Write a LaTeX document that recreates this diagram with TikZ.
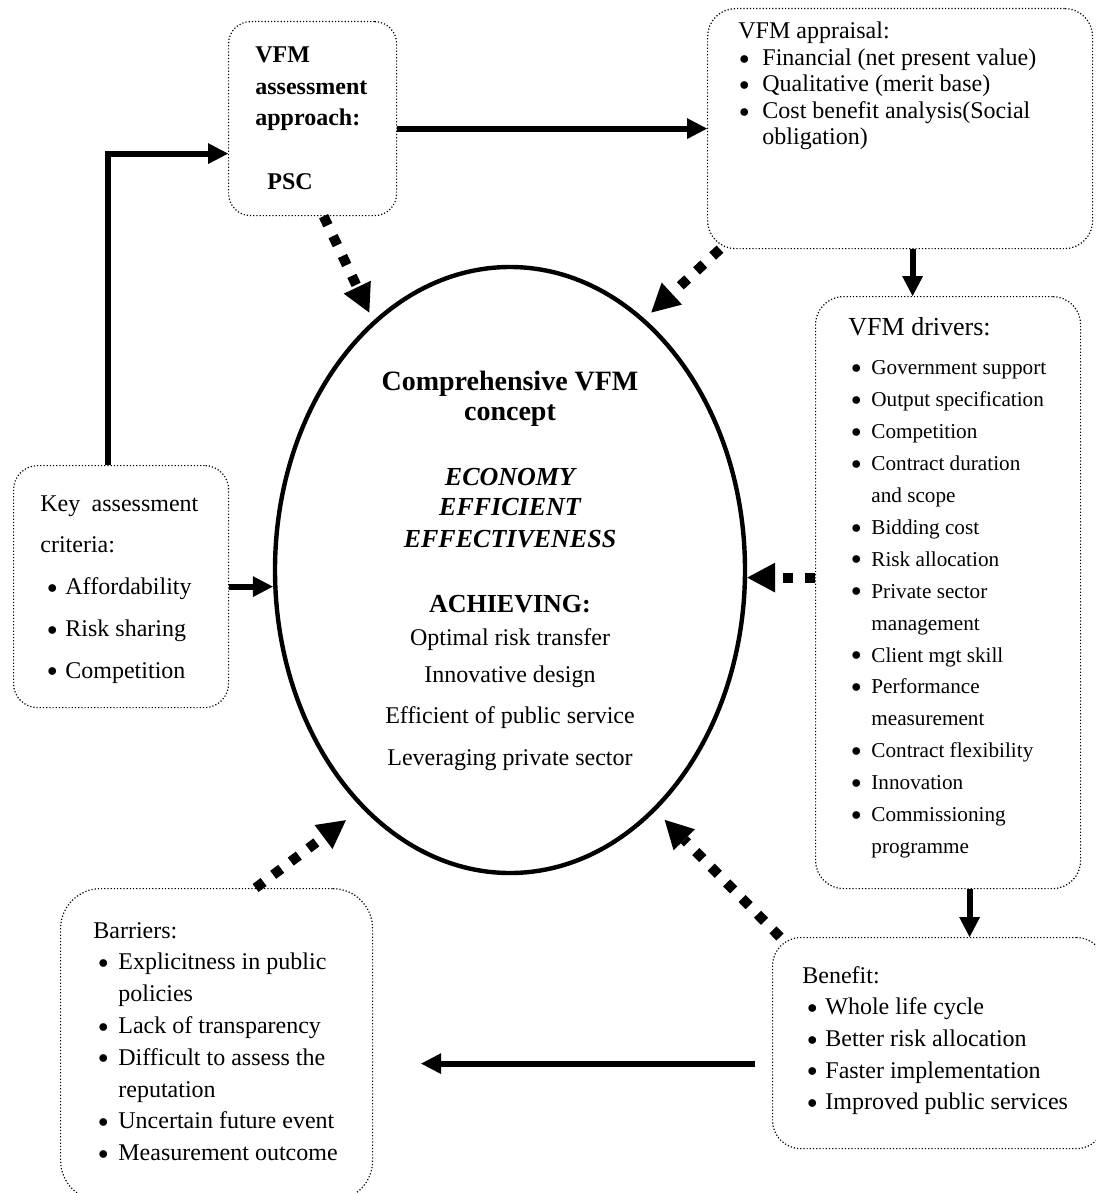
\documentclass[tikz,border=0pt]{standalone}
\usepackage{fontspec}
\setmainfont{Liberation Serif}
\usetikzlibrary{arrows.meta,shapes.geometric,calc}
\newlength\bulind
\newlength\itemind
\newcommand{\bl}[1]{\par\hangindent=\itemind\hspace*{\bulind}\makebox[\dimexpr\itemind-\bulind\relax][l]{\raisebox{0.7pt}{\fontsize{10}{10}\selectfont$\bullet$}}#1}
\tikzset{
  fr/.style={rectangle, rounded corners=14pt, densely dotted, line width=0.6pt, draw=black, anchor=north west, inner sep=0pt},
  el/.style={ellipse, draw=black, line width=2.2pt, inner sep=0pt, minimum width=235pt, minimum height=303pt},
  txt/.style={anchor=base west, inner sep=0pt},
  arr/.style={line width=3pt, -{Triangle[length=10pt,width=10.5pt,line width=0pt]}},
  darr/.style={line width=5pt, dash pattern=on 5pt off 6pt, -{Triangle[length=14pt,width=15pt,line width=0pt]}}
}
\begin{document}
\begin{tikzpicture}[x=0.5pt,y=-0.5pt]
	\useasboundingbox (0,0) rectangle (1096,1193);
	\node[fr, rounded corners=11pt, minimum width=84pt, minimum height=97pt] (psc) at (228,21) {};
	\node[fr, minimum width=192.5pt, minimum height=120pt] (appraisal) at (707,8) {};
	\node[fr, minimum width=132.5pt, minimum height=296pt] (drivers) at (815,296) {};
	\node[fr, rounded corners=12pt, minimum width=107.5pt, minimum height=121pt] (key) at (13,465) {};
	\node[fr, rounded corners=20pt, minimum width=156pt, minimum height=156pt] (barriers) at (60,888) {};
	\node[fr, minimum width=166pt, minimum height=105.5pt] (benefit) at (772,937) {};
	\node[el] (vfm) at (510,570) {};
	%
	\node[txt] (psctext) at (255,63) {\begin{minipage}[t]{80pt}\raggedright\bfseries\fontsize{12}{15.75}\selectfont
		VFM\\assessment\\approach:\\[15.75pt]\hspace*{6pt}PSC\end{minipage}};
	\node[txt] (appraisaltext) at (738,39) {\begin{minipage}[t]{175pt}\raggedright\fontsize{12}{13.25}\selectfont
		\setlength\bulind{0.5pt}\setlength\itemind{12pt}%
		VFM appraisal:
		\bl{Financial (net present value)}
		\bl{Qualitative (merit base)}
		\bl{Cost benefit analysis(Social\newline obligation)}\end{minipage}};
	\node[txt] (driverstext) at (848,335) {\begin{minipage}[t]{120pt}\raggedright\fontsize{10.6}{15.95}\selectfont
		\setlength\bulind{1.5pt}\setlength\itemind{11.5pt}%
		{\fontsize{13}{16}\selectfont VFM drivers:\par}\vspace{4pt}
		\bl{Government support}
		\bl{Output specification}
		\bl{Competition}
		\bl{Contract duration\newline and scope}
		\bl{Bidding cost}
		\bl{Risk allocation}
		\bl{Private sector\newline management}
		\bl{Client mgt skill}
		\bl{Performance\newline measurement}
		\bl{Contract flexibility}
		\bl{Innovation}
		\bl{Commissioning\newline programme}\end{minipage}};
	\node[txt] (keytext) at (40,511) {\begin{minipage}[t]{90pt}\raggedright\fontsize{12}{20.9}\selectfont
		\setlength\bulind{3.5pt}\setlength\itemind{12.5pt}%
		\makebox[79pt][s]{Key assessment}\\criteria:
		\bl{Affordability}
		\bl{Risk sharing}
		\bl{Competition}\end{minipage}};
	\node[txt] (barrierstext) at (93,938) {\begin{minipage}[t]{135pt}\raggedright\fontsize{12}{15.9}\selectfont
		\setlength\bulind{2.5pt}\setlength\itemind{12.5pt}%
		Barriers:
		\bl{Explicitness in public\newline policies}
		\bl{Lack of transparency}
		\bl{Difficult to assess the\newline reputation}
		\bl{Uncertain future event}
		\bl{Measurement outcome}\end{minipage}};
	\node[txt] (benefittext) at (802,983) {\begin{minipage}[t]{140pt}\raggedright\fontsize{12}{15.85}\selectfont
		\setlength\bulind{2.5pt}\setlength\itemind{11.5pt}%
		Benefit:
		\bl{Whole life cycle}
		\bl{Better risk allocation}
		\bl{Faster implementation}
		\bl{Improved public services}\end{minipage}};
	\node[anchor=base, inner sep=0pt] (vfmtext) at (510,390) {\begin{minipage}[t]{150pt}\centering\fontsize{12}{15}\selectfont
		{\bfseries\fontsize{14}{15}\selectfont Comprehensive VFM\\concept}\\[17.5pt]
		{\bfseries\itshape\fontsize{13}{15}\selectfont ECONOMY\\EFFICIENT\\[1pt]EFFECTIVENESS}\\[17.5pt]
		{\bfseries\fontsize{13}{15}\selectfont ACHIEVING:}\\[1.5pt]
		Optimal risk transfer\\[3.5pt]
		Innovative design\\[5.5pt]
		Efficient of public service\\[6pt]
		Leveraging private sector\end{minipage}};
	%
	\coordinate (adrop) at ([xshift=6.25pt]appraisal.south);
	\coordinate (ddrop) at ([xshift=10.75pt]drivers.south);
	\coordinate (btail) at ([xshift=-8.5pt,yshift=-10.25pt]benefit.west);
	\coordinate (dtail) at ([yshift=7.5pt]drivers.west);
	\draw[arr] ([xshift=-6.75pt]key.north) |- ([yshift=-17.5pt]psc.west);
	\draw[arr] (appraisal.west -| psc.east) -- (appraisal.west);
	\draw[arr] (adrop) -- (adrop |- drivers.north);
	\draw[arr] (ddrop) -- (ddrop |- benefit.north);
	\draw[arr] (btail) -- ($(btail -| barriers.east)+(48,0)$);
	\draw[arr] (key.east) -- (vfm.west |- key.east);
	\draw[darr] ([xshift=5.5pt]psc.south) -- ([shift={(-1.5pt,4.5pt)}]vfm.119);
	\draw[darr] ([xshift=6.5pt]appraisal.south west) -- ([shift={(1.75pt,4.5pt)}]vfm.61);
	\draw[darr] (dtail) -- (vfm.east |- dtail);
	\draw[darr] ([xshift=19.5pt]barriers.north) -- ([shift={(-6pt,-8pt)}]vfm.237);
	\draw[darr] ([xshift=4pt]benefit.north west) -- ([shift={(3pt,-6pt)}]vfm.302);
\end{tikzpicture}
\end{document}
